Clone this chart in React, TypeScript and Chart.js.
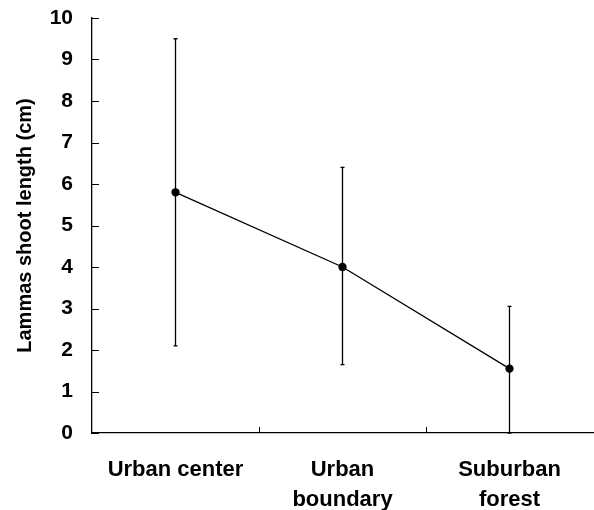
import React, { useEffect, useRef } from "react";
import { Chart, registerables } from "chart.js";

Chart.register(...registerables);

const categories: (string | string[])[] = ["Urban center", ["Urban", "boundary"], ["Suburban", "forest"]];
const means: number[] = [5.8, 4.0, 1.55];
const lows: number[] = [2.1, 1.65, 0];
const highs: number[] = [9.5, 6.4, 3.05];
const yTicks: number[] = [0, 1, 2, 3, 4, 5, 6, 7, 8, 9, 10];

const FONT = "'Liberation Sans', Arial, Helvetica, sans-serif";

const errorBarPlugin = {
  id: "errorBars",
  afterDatasetsDraw(chart: any) {
    const { ctx } = chart;
    const x = chart.scales.x;
    const y = chart.scales.y;
    ctx.save();
    ctx.strokeStyle = "#000";
    ctx.lineWidth = 1.3;
    for (let i = 0; i < means.length; i++) {
      const px = x.getPixelForValue(i);
      const top = y.getPixelForValue(highs[i]);
      const bot = y.getPixelForValue(lows[i]);
      ctx.beginPath();
      ctx.moveTo(px, top);
      ctx.lineTo(px, bot);
      ctx.moveTo(px - 2, top);
      ctx.lineTo(px + 2, top);
      ctx.moveTo(px - 2, bot);
      ctx.lineTo(px + 2, bot);
      ctx.stroke();
    }
    ctx.restore();
  },
  afterDraw(chart: any) {
    const { ctx, chartArea } = chart;
    const x = chart.scales.x;
    const y = chart.scales.y;
    ctx.save();
    ctx.strokeStyle = "#000";
    ctx.lineWidth = 1;
    ctx.beginPath();
    for (const v of yTicks) {
      const py = Math.round(y.getPixelForValue(v)) + 0.5;
      ctx.moveTo(chartArea.left, py);
      ctx.lineTo(chartArea.left + 7, py);
    }
    for (let i = 0; i < categories.length - 1; i++) {
      const px = Math.round((x.getPixelForValue(i) + x.getPixelForValue(i + 1)) / 2) + 0.5;
      ctx.moveTo(px, chartArea.bottom);
      ctx.lineTo(px, chartArea.bottom - 6);
    }
    ctx.stroke();
    ctx.restore();
  },
};

function zeroPad(scale: any) {
  scale.paddingLeft = 0;
  scale.paddingRight = 0;
  scale.paddingTop = 0;
  scale.paddingBottom = 0;
}

export default function App() {
  const ref = useRef<HTMLCanvasElement | null>(null);
  useEffect(() => {
    if (!ref.current) return;
    const chart = new Chart(ref.current, {
      type: "line",
      data: {
        labels: categories as any,
        datasets: [
          {
            data: means,
            borderColor: "#000",
            borderWidth: 1.3,
            pointRadius: 3.5,
            pointBackgroundColor: "#000",
            pointBorderColor: "#000",
            tension: 0,
          },
        ],
      },
      options: {
        animation: false,
        responsive: true,
        maintainAspectRatio: false,
        layout: { autoPadding: false, padding: { top: 18, right: 1, left: 0, bottom: 0 } },
        plugins: { legend: { display: false }, tooltip: { enabled: false } },
        scales: {
          x: {
            offset: true,
            grid: { display: false, drawTicks: false },
            border: { display: true, color: "#000", width: 1.3 },
            ticks: {
              color: "#000",
              padding: 22,
              maxRotation: 0,
              autoSkip: false,
              font: { family: FONT, size: 22, weight: "bold", lineHeight: 1.36 },
            },
            afterFit(scale: any) {
              scale.height = 77;
              zeroPad(scale);
            },
          },
          y: {
            min: 0,
            max: 10,
            grid: { display: false, drawTicks: false },
            border: { display: true, color: "#000", width: 1.3 },
            ticks: {
              stepSize: 1,
              color: "#000",
              padding: 19,
              font: { family: FONT, size: 21, weight: "bold" },
            },
            title: {
              display: true,
              text: "Lammas shoot length (cm)",
              color: "#000",
              padding: { top: 13, bottom: 0 },
              font: { family: FONT, size: 20, weight: "bold" },
            },
            afterFit(scale: any) {
              scale.width = 92;
              zeroPad(scale);
            },
          },
        },
      },
      plugins: [errorBarPlugin],
    });
    return () => chart.destroy();
  }, []);
  return (
    <div style={{ position: "absolute", left: 0, top: 0, width: 594, height: 510, background: "#fff" }}>
      <canvas ref={ref} />
    </div>
  );
}
